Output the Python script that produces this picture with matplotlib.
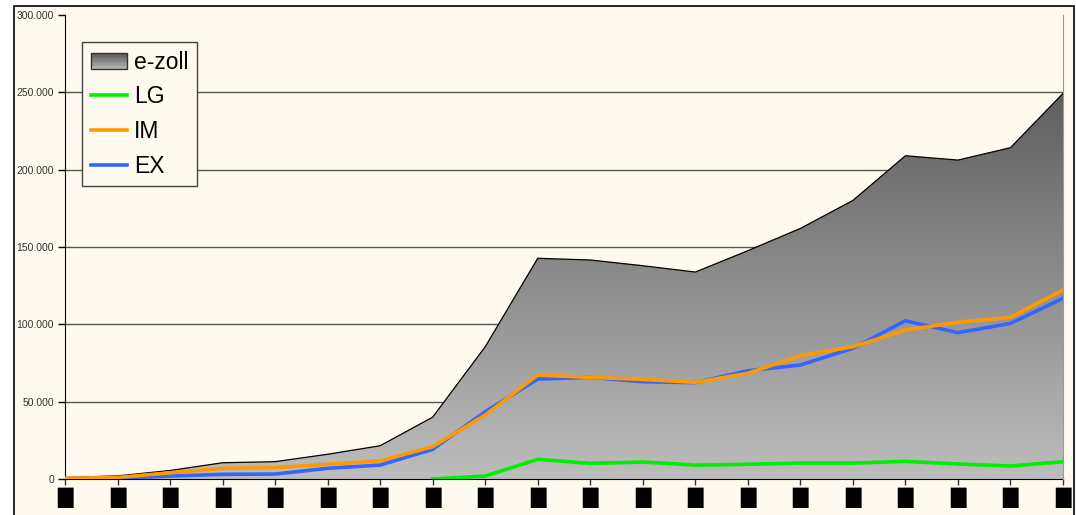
import numpy as np
import matplotlib
matplotlib.use('Agg')
import matplotlib.pyplot as plt
from matplotlib.patches import Rectangle, Polygon
from matplotlib.lines import Line2D
from matplotlib.legend_handler import HandlerBase
from matplotlib.ticker import FuncFormatter, MultipleLocator

plt.rcParams['font.family'] = ['Liberation Sans', 'DejaVu Sans']

# x labels render as solid blocks in the original
labels = ['\u2588'] * 20
ezoll = [1000, 2000, 5500, 10500, 11200, 16000, 21500, 40000, 85500, 142700,
         141600, 137900, 133800, 147600, 162000, 180100, 209000, 206200, 214200, 249300]
im = [500, 1000, 4000, 6900, 7300, 9500, 11800, 20900, 41400, 67200,
      65700, 64400, 62500, 68300, 79700, 85500, 96300, 101300, 104500, 122200]
ex = [0, 500, 1900, 3000, 3200, 6900, 9000, 19200, 43500, 64600,
      65700, 62900, 62300, 70000, 73700, 84500, 102300, 94600, 100600, 116800]
lg = [np.nan] * 7 + [0, 1900, 12700, 10100, 11000, 9000, 9500, 10300, 10300,
                     11400, 9700, 8400, 11200]

cream = '#fffaf0'
x = np.arange(len(labels))

fig = plt.figure(figsize=(10.76, 5.15), dpi=100)
fig.patch.set_facecolor('white')
fig.patches.append(Rectangle((14 / 1076, -0.05), 1060 / 1076, 1.05 - 6 / 515,
                             transform=fig.transFigure, facecolor=cream,
                             edgecolor='black', linewidth=1.2, zorder=-5))

ax = fig.add_axes([65 / 1076, 1 - 479 / 515, 998 / 1076, 464 / 515])
ax.set_facecolor(cream)
ax.set_xlim(0, len(labels) - 1)
ax.set_ylim(0, 300000)

# gradient filled area
poly = Polygon(np.column_stack([np.r_[x, x[::-1]], np.r_[ezoll, np.zeros(len(x))]]),
               closed=True, facecolor='none', edgecolor='none')
ax.add_patch(poly)
grad = np.linspace(0, 1, 256).reshape(-1, 1)
cmap = matplotlib.colors.LinearSegmentedColormap.from_list('g', ['#bdbdbd', '#4c4c4c'])
img = ax.imshow(grad, cmap=cmap, aspect='auto', origin='lower',
                extent=[0, len(labels) - 1, 0, 300000], zorder=2)
img.set_clip_path(poly)
ax.plot(x, ezoll, color='black', linewidth=0.9, zorder=3)

ax.plot(x, ex, color='#3366ff', linewidth=2.6, zorder=4, solid_joinstyle='miter')
ax.plot(x, im, color='#ff9900', linewidth=2.6, zorder=5, solid_joinstyle='miter')
ax.plot(x, lg, color='#00ee00', linewidth=2.6, zorder=6, solid_joinstyle='miter')

ax.yaxis.set_major_locator(MultipleLocator(50000))
ax.yaxis.set_major_formatter(FuncFormatter(lambda v, p: f'{int(v):,}'.replace(',', '.')))
for v in range(50000, 300000, 50000):
    ax.axhline(v, color='#555555', linewidth=1.0, zorder=1)

ax.set_xticks(x)
ax.set_xticklabels(labels, fontsize=14.5, family='DejaVu Sans')
ax.tick_params(axis='x', length=4, width=1, pad=2.5, color='#333333')
ax.tick_params(axis='y', length=5, width=1, pad=3, labelsize=7.5, labelcolor='#333333')
ax.spines['top'].set_visible(False)
ax.spines['right'].set_color('#999999')
ax.spines['right'].set_linewidth(0.8)
ax.spines['left'].set_color('black')
ax.spines['bottom'].set_color('black')
ax.spines['right'].set_zorder(7)


class GradHandler(HandlerBase):
    def create_artists(self, legend, orig, xd, yd, w, h, fs, trans):
        arts = []
        n = 12
        for i in range(n):
            c = cmap(1 - i / (n - 1) * 0.8 - 0.1)
            arts.append(Rectangle((xd, yd + h - (i + 1) * h / n), w, h / n,
                                  facecolor=c, edgecolor='none', transform=trans))
        arts.append(Rectangle((xd, yd), w, h, facecolor='none',
                              edgecolor='#333333', linewidth=1, transform=trans))
        return arts


area_h = Rectangle((0, 0), 1, 1)
handles = [area_h,
           Line2D([], [], color='#00ee00', linewidth=2.6),
           Line2D([], [], color='#ff9900', linewidth=2.6),
           Line2D([], [], color='#3366ff', linewidth=2.6)]
leg = ax.legend(handles, ['e-zoll', 'LG', 'IM', 'EX'], loc='upper left',
                bbox_to_anchor=((82 - 65) / 998, (479 - 42) / 464), borderaxespad=0,
                fontsize=16.5, frameon=True, fancybox=False, framealpha=1,
                facecolor=cream, edgecolor='#444444', handlelength=1.6,
                handletextpad=0.28, labelspacing=0.51, borderpad=0.38,
                handler_map={Rectangle: GradHandler()})
leg.get_frame().set_linewidth(1)
leg.set_zorder(10)

fig.savefig('out.png', dpi=100, facecolor='white')
